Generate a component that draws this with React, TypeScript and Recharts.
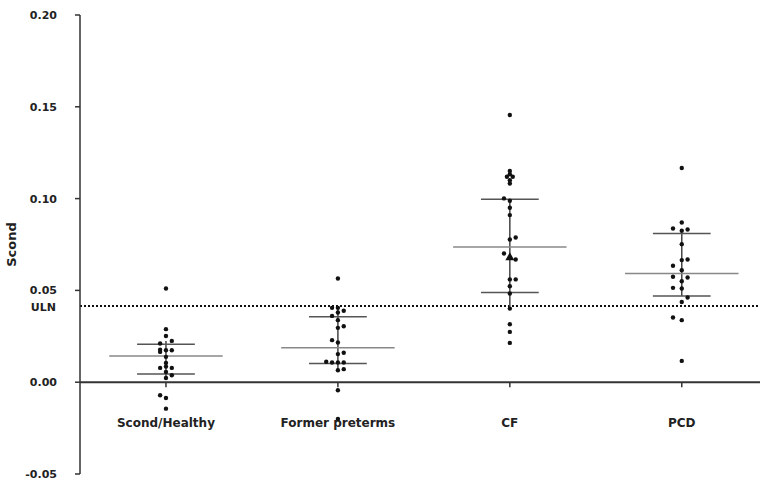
import { ScatterChart, Scatter, XAxis, YAxis, ReferenceLine } from 'recharts';

const categories = ['Scond/Healthy', 'Former preterms', 'CF', 'PCD'];

// individual values per group, with the beeswarm column of each dot
const healthyVals = [0.051, 0.0289, 0.0252, 0.0225, 0.0211, 0.0177, 0.0165, 0.0174, 0.0174, 0.0138, 0.0105, 0.0078, 0.0085, 0.0078, 0.0056, 0.0038, 0.0023, -0.0071, -0.0086, -0.0144];
const healthyCols = [0, 0, 0, 1, -1, -1, -1, 0, 1, 0, 0, -1, 0, 1, 0, 1, 0, -1, 0, 0];

const pretermVals = [0.0565, 0.0405, 0.0405, 0.0389, 0.038, 0.0361, 0.0338, 0.0296, 0.0305, 0.0229, 0.0216, 0.0153, 0.016, 0.0111, 0.0107, 0.0107, 0.0107, 0.0065, 0.0071, -0.0044, -0.02];
const pretermCols = [0, -1, 0, 1, 0, -1, 0, 0, 1, -1, 0, 0, 1, -2, -1, 0, 1, 0, 1, 0, 0];

const cfVals = [0.1455, 0.1151, 0.1133, 0.1119, 0.1119, 0.11, 0.1082, 0.1001, 0.0988, 0.095, 0.091, 0.0777, 0.0788, 0.0701, 0.0668, 0.056, 0.056, 0.0523, 0.0483, 0.0401, 0.0316, 0.0274, 0.0214];
const cfCols = [0, 0, 0, -0.5, 0.5, 0, 0, -1, 0, 0, 0, 0, 1, -1, 1, 0, 1, 0, 0, 0, 0, 0, 0];
const cfTriangle = 0.0683;

const pcdVals = [0.1167, 0.087, 0.0837, 0.0825, 0.0832, 0.0752, 0.0665, 0.0668, 0.0634, 0.061, 0.0574, 0.057, 0.055, 0.0514, 0.051, 0.0461, 0.0437, 0.0352, 0.0338, 0.0116];
const pcdCols = [0, 0, -1.5, 0, 1, 0, 0, 1, -1.5, 0, -1.5, 1, 0, -1.5, 0, 1, 0, -1.5, 0, 0];

// summary lines per group
const means = [0.0143, 0.0187, 0.0737, 0.0592];
const upper = [0.0207, 0.0356, 0.0997, 0.081];
const lower = [0.0044, 0.0102, 0.0489, 0.047];
const whiskTop = [0.0225, 0.0405, 0.0997, 0.081];
const whiskBottom = [0.0023, 0.0056, 0.04, 0.047];

const ULN = 0.0415;
const yTicks = [-0.05, 0, 0.05, 0.1, 0.15, 0.2];

const JITTER = 0.034;
const MEAN_HALF = 0.33;
const CAP_HALF = 0.168;

const groups = [
  [healthyVals, healthyCols],
  [pretermVals, pretermCols],
  [cfVals, cfCols],
  [pcdVals, pcdCols],
];

const points = groups.flatMap(([vals, cols], g) =>
  vals.map((v, i) => ({ x: g + 1 + cols[i] * JITTER, y: v }))
);
const trianglePts = [{ x: 3, y: cfTriangle }];
const catPts = categories.map((name, i) => ({ x: i + 1, y: 0, name }));

const font = { fontFamily: 'DejaVu Sans', fontWeight: 'bold' as const };

const Dot = (props: any) => <circle cx={props.cx} cy={props.cy} r={2.2} fill="#111" />;

const Tri = (props: any) => {
  const { cx, cy } = props;
  return <polygon points={`${cx},${cy - 4.5} ${cx - 4.5},${cy + 3.5} ${cx + 4.5},${cy + 3.5}`} fill="#111" />;
};

const CatLabel = (props: any) => {
  const { cx, cy, payload } = props;
  return (
    <g>
      <line x1={cx} y1={cy} x2={cx} y2={cy + 5} stroke="#333" strokeWidth={1.5} />
      <text x={cx} y={cy + 45} textAnchor="middle" fontSize={12} fill="#222" {...font}>
        {payload.name}
      </text>
    </g>
  );
};

export default function App() {
  return (
    <div style={{ position: 'absolute', left: 0, top: 0, background: '#fff' }}>
      <ScatterChart width={760} height={483} margin={{ top: 15, right: 0, bottom: 9, left: 0 }}>
        <XAxis type="number" dataKey="x" domain={[0.5, 4.455]} hide />
        <YAxis
          type="number"
          dataKey="y"
          domain={[-0.05, 0.2]}
          ticks={yTicks}
          width={80}
          tickSize={5}
          tickMargin={18}
          tickFormatter={(v: number) => v.toFixed(2)}
          axisLine={{ stroke: '#333', strokeWidth: 1.5 }}
          tickLine={{ stroke: '#333', strokeWidth: 1.5 }}
          tick={{ fontSize: 11, fill: '#222', ...font }}
          label={{
            content: (p: any) => {
              const vb = p.viewBox;
              const cx = vb.x + 11;
              const cy = vb.y + vb.height / 2;
              return (
                <text x={cx} y={cy} transform={`rotate(-90 ${cx} ${cy})`} textAnchor="middle" dominantBaseline="central" fontSize={13} fill="#222" {...font}>
                  Scond
                </text>
              );
            },
          }}
        />
        <ReferenceLine y={0} stroke="#333" strokeWidth={2} />
        <ReferenceLine
          y={ULN}
          stroke="#111"
          strokeWidth={2}
          strokeDasharray="2 2"
          label={{
            content: (p: any) => (
              <text x={p.viewBox.x - 24} y={p.viewBox.y + 5} textAnchor="end" fontSize={11} fill="#222" {...font}>
                ULN
              </text>
            ),
          }}
        />
        {categories.map((c, i) => (
          <ReferenceLine key={'w' + c} segment={[{ x: i + 1, y: whiskBottom[i] }, { x: i + 1, y: whiskTop[i] }]} stroke="#444" strokeWidth={1.5} />
        ))}
        {categories.map((c, i) => (
          <ReferenceLine key={'u' + c} segment={[{ x: i + 1 - CAP_HALF, y: upper[i] }, { x: i + 1 + CAP_HALF, y: upper[i] }]} stroke="#555" strokeWidth={1.5} />
        ))}
        {categories.map((c, i) => (
          <ReferenceLine key={'l' + c} segment={[{ x: i + 1 - CAP_HALF, y: lower[i] }, { x: i + 1 + CAP_HALF, y: lower[i] }]} stroke="#555" strokeWidth={1.5} />
        ))}
        {categories.map((c, i) => (
          <ReferenceLine key={'m' + c} segment={[{ x: i + 1 - MEAN_HALF, y: means[i] }, { x: i + 1 + MEAN_HALF, y: means[i] }]} stroke="#888" strokeWidth={1.5} />
        ))}
        <Scatter data={catPts} shape={<CatLabel />} isAnimationActive={false} />
        <Scatter data={points} shape={<Dot />} isAnimationActive={false} />
        <Scatter data={trianglePts} shape={<Tri />} isAnimationActive={false} />
      </ScatterChart>
    </div>
  );
}
